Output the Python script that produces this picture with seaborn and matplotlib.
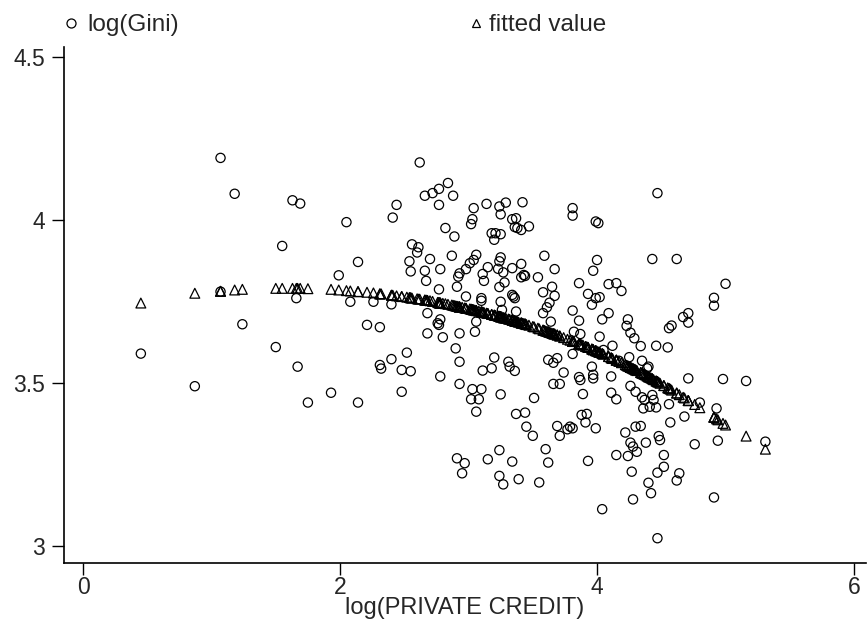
import matplotlib
matplotlib.use("Agg")
import matplotlib.pyplot as plt
from matplotlib.lines import Line2D
import pandas as pd
import seaborn as sns

# ===============================
# Data
# ===============================
# log(PRIVATE CREDIT) for each country
x_credit = [
    0.45, 0.87, 1.07, 1.07, 1.18, 1.24, 1.50, 1.55, 1.63, 1.66, 1.67, 1.69, 1.75, 1.93, 1.99,
    2.62, 2.05, 2.44, 2.41, 2.66, 2.72, 2.77, 2.84, 2.88, 2.77, 2.82, 2.89, 2.56, 2.61, 2.60,
    2.70, 2.54, 2.87, 2.55, 2.66, 2.78, 2.67, 2.92, 2.93, 2.98, 2.91, 2.77, 2.14, 2.98,
    2.08, 2.26, 2.40, 2.68, 2.78, 2.76, 2.77, 2.68, 2.80, 2.93, 2.21, 2.31, 2.90, 2.93, 2.52,
    2.40, 2.31, 2.32, 2.48, 2.55, 2.78, 2.93, 2.14, 2.48, 2.91, 2.97, 2.95,
    3.04, 3.14, 3.24, 3.29, 3.42, 3.25, 3.03, 3.02, 3.34, 3.37, 3.36, 3.38, 3.41, 3.47, 3.18,
    3.21, 3.25, 3.20, 3.81, 3.81, 3.99, 4.01, 3.06, 3.04, 3.01, 3.15, 3.25, 3.24, 3.23, 3.27,
    3.34, 3.41, 3.43, 3.44, 3.41, 3.11, 3.12, 3.28, 3.24, 3.34, 3.35, 3.54, 3.59, 3.67, 3.65,
    3.58, 3.67, 3.86, 3.93, 3.97, 4.00, 3.10,
    3.10, 3.25, 3.36, 3.26, 3.37, 3.63, 3.61, 3.58, 3.64, 3.81, 3.86, 3.96, 3.99, 3.82, 3.87,
    4.02, 3.06, 3.05, 3.20, 3.18, 3.11, 3.31, 3.32, 3.36, 3.62, 3.66, 3.69, 3.74, 3.81, 3.96,
    3.97, 3.97, 3.86, 3.87, 3.66, 3.71, 3.03, 3.10, 3.02, 3.08, 3.25, 3.06, 3.51, 3.89, 3.37,
    3.44, 3.45, 3.50, 3.69, 3.71, 3.77, 3.79, 3.81, 3.88, 3.92, 3.91, 3.99, 3.24, 3.15, 3.34,
    3.60, 3.62, 3.93, 3.24, 3.27, 3.39, 3.55,
    4.47, 4.43, 4.62, 5.00, 4.09, 4.15, 4.19, 4.02, 4.91, 4.91, 4.09, 4.04, 4.24, 4.71, 4.67,
    4.23, 4.26, 4.29, 4.71, 4.56, 4.58, 4.12, 4.34, 4.46, 4.55, 4.05, 4.25, 4.35, 4.17, 4.39,
    4.40, 4.11, 4.71, 4.98, 5.16, 4.26, 4.30, 4.11, 4.15, 4.35, 4.43, 4.44, 4.37, 4.36, 4.41,
    4.46, 4.56, 4.68, 4.80, 4.93, 4.57, 4.22, 4.30, 4.34, 4.26, 4.28, 4.31, 4.38, 4.48, 4.49,
    4.15, 4.24, 4.52, 4.76, 4.94, 4.27, 4.47, 4.52, 4.40, 4.42, 4.62, 4.64, 4.28, 4.91, 4.04,
    4.47, 5.31,
]

# observed log(Gini)
log_gini = [
    3.59, 3.49, 4.19, 3.78, 4.08, 3.68, 3.61, 3.92, 4.06, 3.76, 3.55, 4.05, 3.44, 3.47, 3.83,
    4.176, 3.993, 4.046, 4.007, 4.074, 4.082, 4.095, 4.113, 4.074, 4.046, 3.975, 3.949, 3.925, 3.916, 3.900,
    3.880, 3.873, 3.890, 3.842, 3.844, 3.849, 3.813, 3.826, 3.836, 3.849, 3.795, 3.787, 3.871, 3.765,
    3.749, 3.749, 3.741, 3.714, 3.695, 3.683, 3.678, 3.652, 3.640, 3.652, 3.678, 3.671, 3.606, 3.565, 3.593,
    3.573, 3.555, 3.544, 3.540, 3.536, 3.520, 3.497, 3.440, 3.473, 3.269, 3.254, 3.223,
    4.036, 4.049, 4.041, 4.053, 4.054, 4.017, 4.002, 3.987, 4.002, 4.005, 3.978, 3.975, 3.969, 3.980, 3.959,
    3.959, 3.956, 3.939, 4.036, 4.013, 3.995, 3.990, 3.893, 3.877, 3.867, 3.855, 3.885, 3.873, 3.850, 3.839,
    3.852, 3.865, 3.831, 3.828, 3.824, 3.834, 3.813, 3.808, 3.794, 3.770, 3.765, 3.824, 3.890, 3.849, 3.795,
    3.778, 3.767, 3.806, 3.773, 3.844, 3.877, 3.760,
    3.752, 3.749, 3.760, 3.724, 3.719, 3.746, 3.732, 3.714, 3.688, 3.722, 3.691, 3.740, 3.760, 3.657, 3.650,
    3.642, 3.688, 3.657, 3.578, 3.545, 3.538, 3.565, 3.550, 3.537, 3.571, 3.562, 3.576, 3.532, 3.589, 3.550,
    3.525, 3.514, 3.518, 3.509, 3.497, 3.497, 3.481, 3.481, 3.450, 3.450, 3.465, 3.412, 3.454, 3.466, 3.405,
    3.409, 3.366, 3.338, 3.368, 3.338, 3.358, 3.366, 3.361, 3.402, 3.405, 3.379, 3.361, 3.294, 3.266, 3.259,
    3.297, 3.256, 3.261, 3.215, 3.189, 3.205, 3.195,
    4.082, 3.880, 3.880, 3.804, 3.803, 3.806, 3.782, 3.763, 3.761, 3.737, 3.714, 3.695, 3.695, 3.714, 3.702,
    3.675, 3.654, 3.637, 3.685, 3.668, 3.676, 3.614, 3.613, 3.614, 3.609, 3.601, 3.579, 3.568, 3.568, 3.545,
    3.550, 3.520, 3.514, 3.512, 3.506, 3.491, 3.473, 3.470, 3.450, 3.456, 3.463, 3.448, 3.448, 3.422, 3.427,
    3.425, 3.435, 3.397, 3.440, 3.422, 3.379, 3.348, 3.366, 3.368, 3.317, 3.305, 3.289, 3.317, 3.337, 3.325,
    3.279, 3.276, 3.279, 3.312, 3.323, 3.228, 3.225, 3.243, 3.194, 3.162, 3.201, 3.223, 3.143, 3.149, 3.113,
    3.024, 3.320,
]

# fitted value
fitted = [
    3.745, 3.775, 3.781, 3.781, 3.785, 3.787, 3.790, 3.790, 3.790, 3.790, 3.790, 3.790, 3.789, 3.787, 3.785,
    3.757, 3.783, 3.767, 3.769, 3.754, 3.750, 3.746, 3.741, 3.738, 3.746, 3.743, 3.737, 3.760, 3.757, 3.758,
    3.752, 3.762, 3.739, 3.761, 3.754, 3.745, 3.754, 3.734, 3.733, 3.729, 3.735, 3.746, 3.780, 3.729,
    3.782, 3.776, 3.769, 3.753, 3.745, 3.747, 3.746, 3.753, 3.744, 3.733, 3.778, 3.773, 3.736, 3.733, 3.763,
    3.769, 3.773, 3.773, 3.765, 3.761, 3.745, 3.733, 3.780, 3.765, 3.735, 3.730, 3.732,
    3.724, 3.714, 3.704, 3.698, 3.683, 3.703, 3.725, 3.726, 3.693, 3.689, 3.690, 3.688, 3.684, 3.677, 3.710,
    3.707, 3.703, 3.708, 3.628, 3.628, 3.599, 3.595, 3.722, 3.724, 3.727, 3.713, 3.703, 3.704, 3.705, 3.700,
    3.693, 3.684, 3.682, 3.681, 3.684, 3.717, 3.716, 3.699, 3.704, 3.693, 3.692, 3.668, 3.661, 3.650, 3.652,
    3.662, 3.650, 3.620, 3.609, 3.602, 3.597, 3.718,
    3.718, 3.703, 3.690, 3.702, 3.689, 3.655, 3.658, 3.662, 3.654, 3.628, 3.620, 3.604, 3.599, 3.627, 3.619,
    3.594, 3.722, 3.723, 3.708, 3.710, 3.717, 3.696, 3.695, 3.690, 3.657, 3.651, 3.647, 3.639, 3.628, 3.604,
    3.602, 3.602, 3.620, 3.619, 3.651, 3.644, 3.725, 3.718, 3.726, 3.720, 3.703, 3.722, 3.672, 3.616, 3.689,
    3.681, 3.679, 3.673, 3.647, 3.644, 3.634, 3.631, 3.628, 3.617, 3.611, 3.612, 3.599, 3.704, 3.713, 3.693,
    3.659, 3.657, 3.609, 3.704, 3.700, 3.686, 3.666,
    3.504, 3.513, 3.469, 3.371, 3.581, 3.570, 3.562, 3.594, 3.395, 3.395, 3.581, 3.590, 3.552, 3.446, 3.456,
    3.554, 3.548, 3.542, 3.446, 3.483, 3.478, 3.575, 3.532, 3.506, 3.485, 3.588, 3.550, 3.530, 3.566, 3.521,
    3.519, 3.577, 3.446, 3.376, 3.337, 3.548, 3.540, 3.577, 3.570, 3.530, 3.513, 3.510, 3.526, 3.528, 3.517,
    3.506, 3.483, 3.454, 3.424, 3.390, 3.481, 3.556, 3.540, 3.532, 3.548, 3.544, 3.538, 3.524, 3.502, 3.499,
    3.570, 3.552, 3.492, 3.434, 3.387, 3.546, 3.504, 3.492, 3.519, 3.515, 3.469, 3.464, 3.544, 3.395, 3.590,
    3.504, 3.297,
]

x_ticks = [0, 2, 4, 6]
y_ticks = [3, 3.5, 4, 4.5]
y_tick_labels = ["3", "3.5", "4", "4.5"]

assert len(x_credit) == len(log_gini) == len(fitted)

df = pd.DataFrame({"credit": x_credit, "gini": log_gini, "fit": fitted})

# ===============================
# Plot
# ===============================
sns.set_theme(style="ticks")
plt.rcParams["font.family"] = ["Liberation Sans", "DejaVu Sans"]

fig = plt.figure(figsize=(8.68, 6.19), dpi=100)
ax = fig.add_axes([64 / 868, 56 / 619, 802 / 868, 516 / 619])

sns.scatterplot(data=df, x="credit", y="gini", marker="o", s=44, color="black",
                edgecolor="black", linewidth=0.9, ax=ax, zorder=2)
ax.collections[-1].set_facecolor("none")
sns.scatterplot(data=df, x="credit", y="fit", marker="^", s=50, color="black",
                edgecolor="black", linewidth=0.9, ax=ax, zorder=3)
ax.collections[-1].set_facecolor("none")

ax.set_xlim(-0.148, 6.093)
ax.set_ylim(2.948, 4.53)
ax.set_xticks(x_ticks)
ax.set_yticks(y_ticks)
ax.set_yticklabels(y_tick_labels)
ax.set_ylabel("")
ax.tick_params(axis="both", labelsize=16.5, length=8.5, width=1, color="black")
ax.tick_params(axis="y", pad=5)
ax.tick_params(axis="x", pad=1)
ax.set_xlabel("log(PRIVATE CREDIT)", fontsize=17)
ax.xaxis.label.set_va("center")
ax.xaxis.set_label_coords(0.5, (619 - 608 - 56) / 516)
sns.despine(ax=ax)
for side in ["left", "bottom"]:
    ax.spines[side].set_color("black")
    ax.spines[side].set_linewidth(1.2)

# legend across the top, Stata style
h_gini = Line2D([], [], ls="none", marker="o", ms=6.5, mfc="none", mec="black", mew=0.9)
h_fit = Line2D([], [], ls="none", marker="^", ms=6, mfc="none", mec="black", mew=0.9)
leg1 = fig.legend(handles=[h_gini], labels=["log(Gini)"], loc="center left",
                  bbox_to_anchor=(62 / 868, 1 - 25 / 619), frameon=False, fontsize=17.5,
                  handlelength=0.75, handletextpad=0.3, borderpad=0, borderaxespad=0)
leg2 = fig.legend(handles=[h_fit], labels=["fitted value"], loc="center left",
                  bbox_to_anchor=(467 / 868, 1 - 25 / 619), frameon=False, fontsize=17.5,
                  handlelength=0.7, handletextpad=0.2, borderpad=0, borderaxespad=0)

fig.savefig("out.png", dpi=100)
